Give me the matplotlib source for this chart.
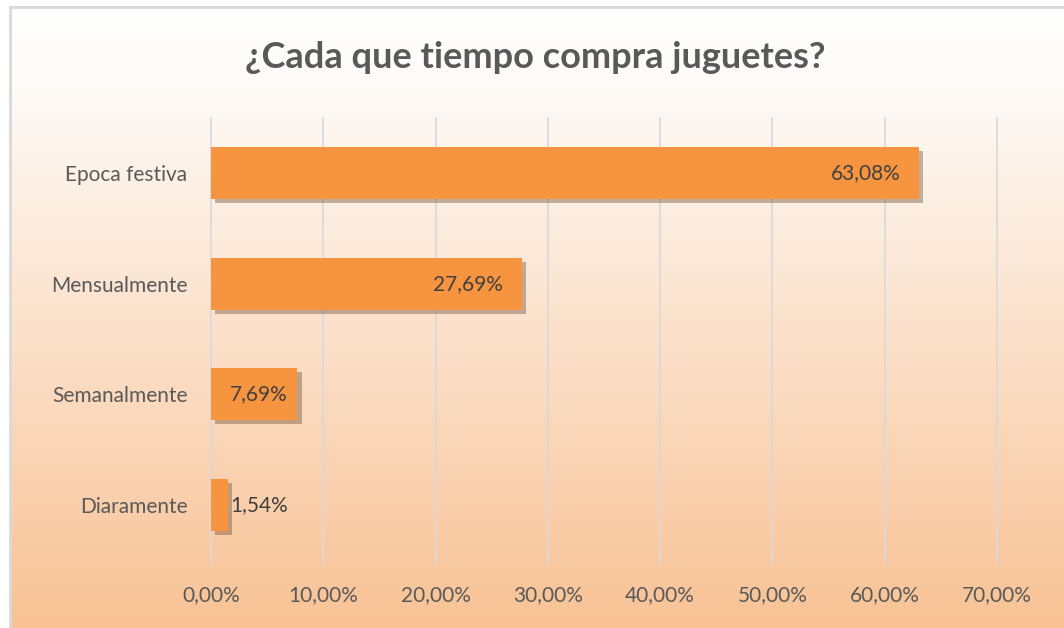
import numpy as np
import matplotlib.pyplot as plt
import matplotlib.patheffects as pe
from matplotlib.colors import LinearSegmentedColormap

categorias = ["Diaramente", "Semanalmente", "Mensualmente", "Epoca festiva"]
porcentajes = [1.54, 7.69, 27.69, 63.08]
etiquetas = ["1,54%", "7,69%", "27,69%", "63,08%"]
ticks_x = [0, 10, 20, 30, 40, 50, 60, 70]
ticks_txt = ["0,00%", "10,00%", "20,00%", "30,00%", "40,00%", "50,00%", "60,00%", "70,00%"]

plt.rcParams['font.family'] = ['Lato', 'DejaVu Sans']
gris = '#595959'

fig = plt.figure(figsize=(10.64, 6.28), dpi=100)

# fondo degradado del area del grafico
bg = fig.add_axes([10 / 1064, 0, 1 - 10 / 1064, 1 - 7 / 628])
fondo = LinearSegmentedColormap.from_list('fondo', [(0, '#ffffff'), (0.12, '#fefbf8'), (1, '#f8c295')])
bg.imshow(np.linspace(0, 1, 256).reshape(-1, 1), aspect='auto', cmap=fondo,
          extent=[0, 1, 0, 1], origin='upper')
bg.set_xticks([])
bg.set_yticks([])
for lado in ['right', 'bottom']:
    bg.spines[lado].set_visible(False)
for lado in ['left', 'top']:
    bg.spines[lado].set_color('#d9d9d9')
    bg.spines[lado].set_linewidth(2)

ax = fig.add_axes([211 / 1064, 1 - 560 / 628, (997 - 211) / 1064, (560 - 118) / 628])
ax.patch.set_alpha(0)
ax.set_xlim(0, 70)
ax.set_ylim(-0.5, 3.5)

for t in ticks_x:
    ax.plot([t, t], [-0.54, 3.5], color='#d9d9d9', lw=1.2, clip_on=False, zorder=1)

y = np.arange(len(categorias))
barras = ax.barh(y, porcentajes, height=0.47, color='#f79440', zorder=3)
for b in barras:
    b.set_path_effects([pe.SimplePatchShadow(offset=(3, -3), shadow_rgbFace='#6b4a30', alpha=0.4),
                        pe.Normal()])

for yi, v, txt in zip(y, porcentajes, etiquetas):
    ax.text(max(v - 1.7, 6.85), yi, txt, ha='right', va='center', fontsize=15,
            color='#404040', zorder=4)

ax.set_yticks(y)
ax.set_yticklabels(categorias, fontsize=15, color=gris)
ax.set_xticks(ticks_x)
ax.set_xticklabels(ticks_txt, fontsize=15, color=gris)
ax.tick_params(length=0, pad=18, axis='x')
ax.tick_params(length=0, pad=17, axis='y')
for s in ax.spines.values():
    s.set_visible(False)

fig.text(535 / 1064, 1 - 57 / 628, "¿Cada que tiempo compra juguetes?", ha='center', va='center',
         fontsize=26, fontweight='bold', color=gris)

fig.savefig('out.png', dpi=100)
